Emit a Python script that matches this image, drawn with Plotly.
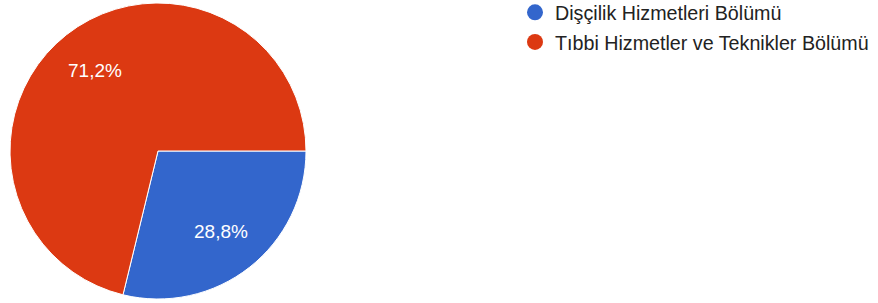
import numpy as np
import plotly.graph_objects as go

labels = ["Dişçilik Hizmetleri Bölümü", "Tıbbi Hizmetler ve Teknikler Bölümü"]
values = [28.8, 71.2]
text_labels = ["28,8%", "71,2%"]
colors = ["#3366cc", "#dc3912"]

W, H = 878, 303
FONT = "Arial, 'Liberation Sans', sans-serif"

# pie placement (pixels)
cx, cy, r = 158, 151, 148
dom_x = [(cx - r) / W, (cx + r) / W]
dom_y = [1 - (cy + r) / H, 1 - (cy - r) / H]

fig = go.Figure()
fig.add_trace(go.Pie(
    labels=labels, values=values,
    textinfo="none",
    sort=False, direction="clockwise", rotation=90,
    marker=dict(colors=colors, line=dict(color="white", width=1)),
    domain=dict(x=dom_x, y=dom_y),
    showlegend=False, hoverinfo="label+percent",
))

# inside labels at ~0.69 radius along each slice's mid-angle (clockwise from 3 o'clock)
vals = np.array(values, dtype=float)
cum = np.cumsum(vals) / vals.sum() * 360.0
mid = cum - (vals / vals.sum() * 360.0) / 2
rr = 0.69 * r
for t, a in zip(text_labels, mid):
    px = cx + rr * np.cos(np.radians(a))
    py = cy + rr * np.sin(np.radians(a))
    fig.add_annotation(x=px / W, y=1 - py / H, xref="paper", yref="paper",
                       text=t, showarrow=False, xanchor="center", yanchor="middle",
                       font=dict(family=FONT, size=19, color="white"))

for i, (lab, col) in enumerate(zip(labels, colors)):
    fig.add_trace(go.Scatter(
        x=[None], y=[None], mode="markers", name=lab, legendgroup=f"g{i}",
        marker=dict(color=col, size=17, symbol="circle"),
    ))

fig.update_layout(
    width=W, height=H,
    margin=dict(l=0, r=0, t=0, b=0, autoexpand=False),
    paper_bgcolor="white", plot_bgcolor="white",
    xaxis=dict(visible=False), yaxis=dict(visible=False),
    legend=dict(x=515 / W, y=1 + 7 / H, xanchor="left", yanchor="top",
                font=dict(family=FONT, size=19.7, color="#222222"),
                traceorder="grouped", tracegroupgap=1,
                itemsizing="trace", bgcolor="rgba(0,0,0,0)"),
)
fig.write_html("out.html", config={"displayModeBar": False},
               post_script="document.body.style.margin='0px';")
